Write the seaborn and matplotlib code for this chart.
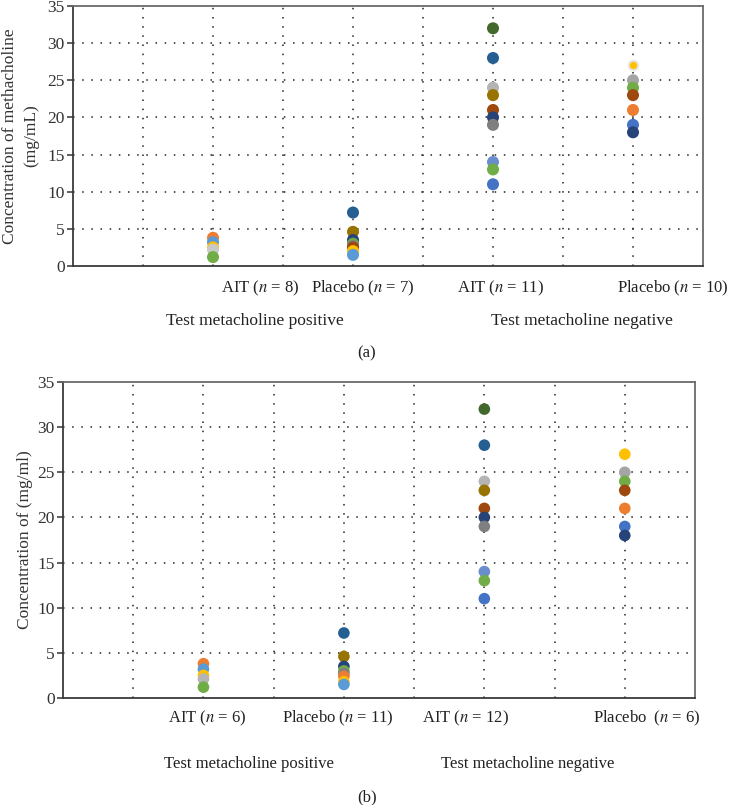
import numpy as np
import pandas as pd
import matplotlib
matplotlib.use("Agg")
import matplotlib.pyplot as plt
import seaborn as sns

# groups: AIT pos, Placebo pos, AIT neg, Placebo neg
# panel (a)
a_values = [
    [3.8, 3.2, 2.5, 2.2, 1.2],
    [7.2, 4.6, 3.5, 3.0, 2.7, 2.5, 2.0, 1.5],
    [32, 28, 24, 23, 21, 20, 19, 14, 13, 11],
    [25, 24, 23, 21, 19, 18],
]
a_colors = [
    ["#ED7D31", "#5B9BD5", "#FFC000", "#C9C9C9", "#70AD47"],
    ["#255E91", "#997300", "#264478", "#70AD47", "#7F7F7F", "#9E480E", "#FFC000", "#5B9BD5"],
    ["#43682B", "#255E91", "#B4B4B4", "#997300", "#9E480E", "#264478", "#7F7F7F", "#698ED0", "#70AD47", "#4472C4"],
    ["#A5A5A5", "#70AD47", "#9E480E", "#ED7D31", "#4472C4", "#264478"],
]
a_small = [27]  # small yellow point in placebo negative
a_labels = ["AIT ($n$ = 8)", "Placebo ($n$ = 7)", "AIT ($n$ = 11)", "Placebo ($n$ = 10)"]

# panel (b)
b_values = [
    [3.8, 3.2, 2.5, 2.1, 1.2],
    [7.2, 4.6, 3.5, 3.0, 2.7, 2.4, 1.8, 1.5],
    [32, 28, 24, 23, 21, 20, 19, 14, 13, 11],
    [27, 25, 24, 23, 21, 19, 18],
]
b_colors = [
    ["#ED7D31", "#5B9BD5", "#FFC000", "#B4B4B4", "#70AD47"],
    ["#255E91", "#997300", "#264478", "#70AD47", "#7F7F7F", "#ED7D31", "#FFC000", "#5B9BD5"],
    ["#43682B", "#255E91", "#B4B4B4", "#997300", "#9E480E", "#264478", "#7F7F7F", "#698ED0", "#70AD47", "#4472C4"],
    ["#FFC000", "#A5A5A5", "#70AD47", "#9E480E", "#ED7D31", "#4472C4", "#264478"],
]
b_labels = ["AIT ($n$ = 6)", "Placebo ($n$ = 11)", "AIT ($n$ = 12)", "Placebo  ($n$ = 6)"]

group_labels = ["Test metacholine positive", "Test metacholine negative"]

plt.rcParams['font.family'] = ['Liberation Serif', 'DejaVu Serif']
plt.rcParams['mathtext.fontset'] = 'stix'

fig = plt.figure(figsize=(7.34, 8.05), dpi=100)
W, H = 734, 805


def make_df(values, colors):
    rows = []
    for i, (vals, cols) in enumerate(zip(values, colors)):
        for v, c in zip(vals, cols):
            rows.append([2 * (i + 1), v, c])
    return pd.DataFrame(rows, columns=["x", "value", "color"])


def style_axes(ax):
    ax.set_xlim(0, 9)
    ax.set_ylim(0, 35)
    ax.set_yticks(range(0, 36, 5))
    ax.set_xticks([])
    ax.tick_params(axis='y', direction='out', length=4, width=1.2, color='#444444',
                   labelsize=12.5, labelcolor='#333333', pad=2)
    for y in range(5, 35, 5):
        ax.axhline(y, color='#222222', lw=1.1, ls=(0, (1, 5)), zorder=0)
    for x in range(1, 9):
        ax.axvline(x, color='#222222', lw=1.1, ls=(0, (1, 5)), zorder=0)
    for s in ['left', 'bottom']:
        ax.spines[s].set_color('#3a3a3a')
        ax.spines[s].set_linewidth(1.3)
    for s in ['top', 'right']:
        ax.spines[s].set_color('#6a6a6a')
        ax.spines[s].set_linewidth(1.3)
    ax.set_xlabel("")
    ax.set_ylabel("")


def px(x, y):
    return x / W, 1 - y / H


# panel (a)
ax1 = fig.add_axes([73 / W, 1 - 266 / H, 630 / W, 260 / H])
df_a = make_df(a_values, a_colors)
sns.scatterplot(data=df_a, x="x", y="value", hue="color",
                palette={c: c for c in df_a["color"].unique()},
                s=75, linewidth=0, legend=False, ax=ax1, zorder=3)
ax1.scatter([8] * len(a_small), a_small, s=70, color='#E6E6E6', linewidth=0, zorder=3)
ax1.scatter([8] * len(a_small), a_small, s=28, color='#FFC000', linewidth=0, zorder=4)
style_axes(ax1)
ax1.set_ylabel("Concentration of methacholine\n(mg/mL)", fontsize=12.5, color='#333333',
               labelpad=6, linespacing=1.4)

for xc, lab in zip([260, 363, 500, 673], a_labels):
    fig.text(*px(xc, 288), lab, ha='center', va='center', fontsize=12, color='#222222')
for xc, lab in zip([255, 582], group_labels):
    fig.text(*px(xc, 321), lab, ha='center', va='center', fontsize=12.5, color='#222222')
fig.text(*px(367, 353), "(a)", ha='center', va='center', fontsize=12, color='#222222')

# panel (b)
ax2 = fig.add_axes([63 / W, 1 - 698 / H, 632 / W, 316 / H])
df_b = make_df(b_values, b_colors)
sns.scatterplot(data=df_b, x="x", y="value", hue="color",
                palette={c: c for c in df_b["color"].unique()},
                s=70, linewidth=0, legend=False, ax=ax2, zorder=3)
style_axes(ax2)
ax2.set_ylabel("Concentration of (mg/ml)", fontsize=12.5, color='#333333', labelpad=3)

for xc, lab in zip([207, 338, 465, 647], b_labels):
    fig.text(*px(xc, 718), lab, ha='center', va='center', fontsize=12, color='#222222')
for xc, lab in zip([249, 528], group_labels):
    fig.text(*px(xc, 764), lab, ha='center', va='center', fontsize=12, color='#222222')
fig.text(*px(367, 797), "(b)", ha='center', va='center', fontsize=12, color='#222222')

fig.savefig("out.png", dpi=100, facecolor='white')
